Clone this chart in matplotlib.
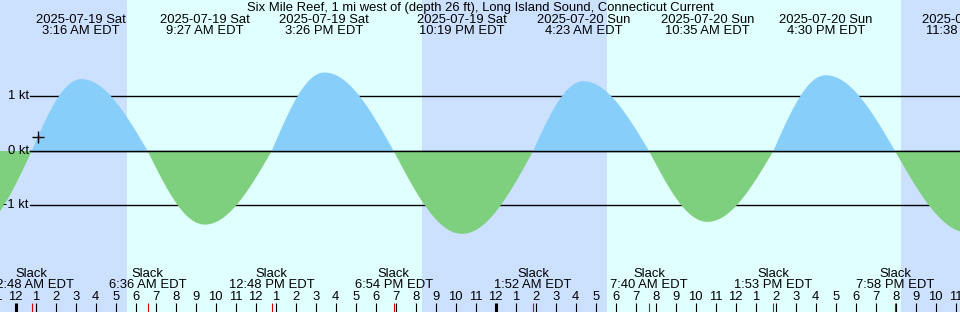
import numpy as np
import matplotlib
matplotlib.use('Agg')
import matplotlib.pyplot as plt
import matplotlib.transforms as mtransforms

plt.rcParams['font.family'] = ['Liberation Sans', 'DejaVu Sans']

# all times in hours since 2025-07-19 00:00 EDT
title = 'Six Mile Reef, 1 mi west of (depth 26 ft), Long Island Sound, Connecticut Current'

slack_hours = [0.8, 6.6, 12.8, 18.9, 25.867, 31.667, 37.883, 43.967]
slack_labels = ['12:48 AM EDT', '6:36 AM EDT', '12:48 PM EDT', '6:54 PM EDT',
                '1:52 AM EDT', '7:40 AM EDT', '1:53 PM EDT', '7:58 PM EDT']

max_hours = [3.267, 9.45, 15.433, 22.317, 28.383, 34.583, 40.5, 47.633]
max_speeds = [1.32, -1.35, 1.44, -1.52, 1.28, -1.30, 1.39, -1.50]
max_dates = ['2025-07-19 Sat', '2025-07-19 Sat', '2025-07-19 Sat', '2025-07-19 Sat',
             '2025-07-20 Sun', '2025-07-20 Sun', '2025-07-20 Sun', '2025-07-20 Sun']
max_labels = ['3:16 AM EDT', '9:27 AM EDT', '3:26 PM EDT', '10:19 PM EDT',
              '4:23 AM EDT', '10:35 AM EDT', '4:30 PM EDT', '11:38 PM EDT']

# max ebb just before the window (off the left edge)
prev_hour = -2.2
prev_speed = -1.5

sunrise_hours = [5.57, 29.57]
sunset_hours = [20.3, 44.25]

now_hour = 1.13
now_speed = 0.25

ytick_vals = [1, 0, -1]
ytick_text = ['1 kt', '0 kt', '-1 kt']

night_col = '#cce0ff'
day_col = '#e0ffff'
flood_col = '#87cefa'
ebb_col = '#7ecf7e'

W, H = 960, 312
fig = plt.figure(figsize=(W / 100, H / 100), dpi=100)
ax = fig.add_axes([0, 0, 1, 1])
ax.set_xlim(-15.7 / 20, (W - 15.7) / 20)
ax.set_ylim(-161 / 54.5, 151 / 54.5)
ax.axis('off')
fig.patch.set_facecolor(day_col)

# day / night background
x0, x1 = ax.get_xlim()
edges = [x0] + sorted(sunrise_hours + sunset_hours) + [x1]
for i in range(len(edges) - 1):
    col = night_col if i % 2 == 0 else day_col
    ax.axvspan(edges[i], edges[i + 1], color=col, lw=0, zorder=0)

# current curve through slack/max events
ev_t = [prev_hour] + slack_hours + max_hours
ev_v = [prev_speed] + [0.0] * len(slack_hours) + max_speeds
order = np.argsort(ev_t)
ev_t = np.array(ev_t)[order]
ev_v = np.array(ev_v)[order]
ts, vs = [], []
for i in range(len(ev_t) - 1):
    s = np.linspace(0, 1, 60)
    seg_t = ev_t[i] + (ev_t[i + 1] - ev_t[i]) * s
    if ev_v[i] == 0:
        seg_v = ev_v[i + 1] * np.sin(np.pi / 2 * s)
    else:
        seg_v = ev_v[i] * np.cos(np.pi / 2 * s)
    ts.append(seg_t)
    vs.append(seg_v)
t = np.concatenate(ts)
v = np.concatenate(vs)

# reference lines (under the fill)
for yv in ytick_vals:
    ax.axhline(yv, xmin=30 / W, xmax=1, color='black', lw=1.0, zorder=1)
ax.fill_between(t, v, 0, where=v >= 0, interpolate=True, color=flood_col, lw=0, zorder=2)
ax.fill_between(t, v, 0, where=v <= 0, interpolate=True, color=ebb_col, lw=0, zorder=2)
ax.axhline(0, xmin=30 / W, xmax=1, color='black', lw=1.0, zorder=3)

fs = 9.4
ytr = mtransforms.blended_transform_factory(ax.transAxes, ax.transData)
for yv, txt in zip(ytick_vals, ytick_text):
    ax.text(28.5 / W, yv, txt, transform=ytr, ha='right', va='center', fontsize=fs, zorder=4)

ax.plot([now_hour], [now_speed], marker='+', color='black', ms=9, mew=1.0, zorder=4)

xtr = ax.get_xaxis_transform()

ax.text(0.5, 1 - 8 / H, title, transform=ax.transAxes, ha='center', va='center', fontsize=fs)
for h, d, lab in zip(max_hours, max_dates, max_labels):
    ax.text(h, 1 - 20 / H, d, transform=xtr, ha='center', va='center', fontsize=fs)
    ax.text(h, 1 - 31.5 / H, lab, transform=xtr, ha='center', va='center', fontsize=fs)

for h, lab in zip(slack_hours, slack_labels):
    ax.text(h, 1 - 274 / H, 'Slack', transform=xtr, ha='center', va='center', fontsize=fs)
    ax.text(h, 1 - 285.5 / H, lab, transform=xtr, ha='center', va='center', fontsize=fs)

# hour ticks along the bottom
hours = np.arange(-1, 48)
for h in hours:
    ax.text(h, 1 - 297.5 / H, str(h % 12 or 12), transform=xtr, ha='center', va='center', fontsize=fs)
    lw = 2.2 if h % 24 == 0 else 0.8
    ax.vlines(h, 0, 9 / H, transform=xtr, color='black', lw=lw, zorder=4)
ax.vlines(slack_hours, 0, 9 / H, transform=xtr, color='#e00000', lw=0.8, zorder=5)

fig.savefig('out.png', dpi=100, facecolor=fig.get_facecolor())
